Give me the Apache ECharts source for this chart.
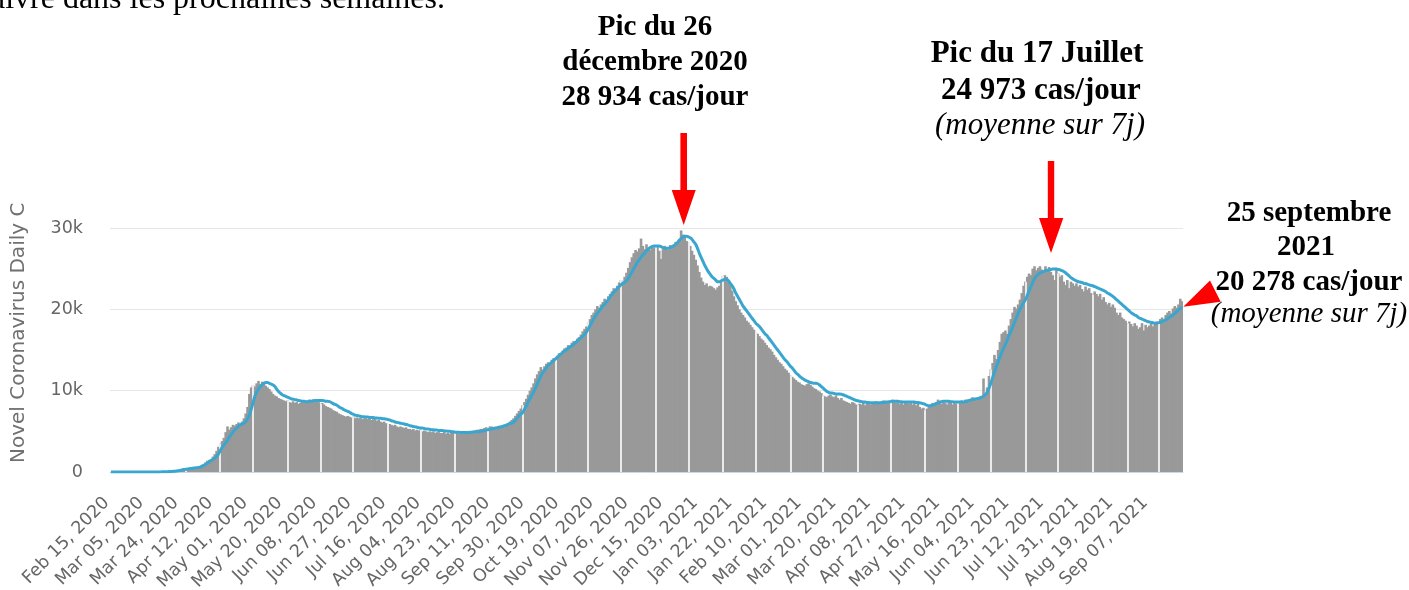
<!DOCTYPE html>
<html>
<head>
<meta charset="utf-8">
<script src="https://cdn.jsdelivr.net/npm/echarts@6/dist/echarts.min.js"></script>
<style>html,body{margin:0;padding:0;background:#fff;}#c{width:1409px;height:590px;}</style>
</head>
<body>
<div id="c"></div>
<script>
// Daily new cases (thousands), one value per day from Feb 15, 2020 to Sep 25, 2021
const dailyCases = [
0,0,0,0,0,0,0,0,0,0,
0,0,0,0,0,0,0,0,0,0,
0,0,0,0,0.01,0.01,0.02,0.02,0.03,0.03,
0.04,0.05,0.07,0.08,0.1,0.13,0.17,0.22,0.28,0.3,
0.35,0.38,0.4,0.44,0.47,0.5,0.55,0.6,0.65,0.75,
0.9,1.0,1.2,1.4,1.5,1.6,1.9,2.2,2.6,3.1,
3.5,3.8,4.2,4.9,5.6,5.2,5.5,5.8,5.7,5.9,
6.1,5.9,6.2,6.6,7.2,8.0,9.6,10.4,10.7,10.5,
10.9,11.2,10.8,11.1,10.9,10.6,10.4,10.2,9.9,9.6,
9.4,9.3,9.1,9.0,8.9,8.8,8.7,8.8,8.6,8.5,
8.7,8.5,8.6,8.4,8.5,8.6,8.7,8.6,8.8,8.9,
8.8,8.9,8.7,8.8,8.6,8.4,8.5,8.3,8.1,8.0,
7.9,7.8,7.6,7.5,7.4,7.2,7.1,7.0,6.9,6.8,
6.9,6.8,6.7,6.8,6.6,6.7,6.6,6.7,6.5,6.6,
6.6,6.5,6.6,6.4,6.5,6.5,6.3,6.4,6.2,6.1,
6.2,6.0,5.9,5.9,5.8,5.7,5.8,5.6,5.5,5.6,
5.5,5.4,5.5,5.3,5.3,5.2,5.3,5.1,5.2,5.1,
5.2,5.0,5.1,5.0,4.9,5.0,4.9,5.0,4.8,4.9,
4.9,4.8,4.8,4.9,4.7,4.8,4.7,4.8,4.8,4.7,
4.8,4.7,4.8,4.8,4.9,4.9,5.0,5.0,5.0,5.1,
5.1,5.2,5.2,5.3,5.3,5.4,5.5,5.5,5.6,5.6,
5.4,5.5,5.5,5.6,5.6,5.7,5.8,5.9,6.0,6.2,
6.4,6.6,6.9,7.2,7.5,7.8,8.2,8.6,9.0,9.5,
10.0,10.4,10.9,11.5,12.0,12.4,12.9,12.6,13.0,13.3,
13.5,13.4,13.8,14.0,13.8,14.3,14.6,14.4,14.9,15.2,
15.3,15.6,15.4,15.9,16.1,16.0,16.4,16.6,16.9,17.3,
17.6,17.9,18.4,18.8,19.3,19.6,20.0,20.4,20.2,20.6,
20.9,21.3,21.1,21.6,21.9,22.2,22.6,22.4,22.9,23.3,
23.6,23.4,24.0,24.5,25.1,25.8,26.4,26.9,27.3,27.1,
27.5,28.7,27.8,27.4,28.0,27.6,27.3,27.8,27.6,27.9,
27.7,27.2,26.2,27.4,27.8,27.6,27.3,27.9,27.7,28.0,
28.3,28.1,28.6,29.7,29.2,28.9,28.4,28.2,27.8,27.2,
26.7,26.1,25.4,24.6,23.9,23.4,23.0,23.2,22.8,22.9,
22.8,22.6,22.4,22.7,22.9,23.6,24.1,24.2,24.0,23.6,
23.0,22.3,21.6,21.0,20.5,20.0,19.6,19.3,19.0,18.6,
18.4,18.1,17.8,17.5,17.2,17.0,16.7,16.4,16.2,15.9,
15.6,15.3,15.1,14.8,14.4,14.1,13.8,13.5,13.3,13.0,
12.7,12.5,12.2,11.9,11.7,11.5,11.3,11.1,11.0,10.8,
10.7,10.6,10.8,10.9,10.7,10.5,10.3,10.2,10.0,9.9,
9.7,9.4,9.3,9.2,9.4,9.5,9.3,9.2,9.4,9.1,
8.9,9.1,8.8,8.7,8.6,8.5,8.4,8.6,8.5,8.3,
8.2,8.4,8.3,8.5,8.2,8.4,8.6,8.3,8.5,8.4,
8.7,8.4,8.6,8.5,8.8,8.6,8.5,8.7,8.8,8.9,
8.6,8.5,8.7,8.4,8.6,8.3,8.7,8.5,8.4,8.6,
8.3,8.5,8.2,8.4,8.0,7.8,7.9,7.6,7.8,8.0,
8.3,8.5,8.4,8.6,8.9,8.7,8.4,8.6,8.5,8.3,
8.7,8.5,8.3,8.6,8.4,8.7,8.5,8.8,8.6,8.9,
8.9,8.8,9.0,9.2,9.0,9.1,9.2,9.1,9.3,11.5,
9.6,10.4,11.8,12.6,13.4,14.4,13.9,15.0,16.0,17.0,
17.2,17.4,17.0,18.0,18.8,19.6,20.3,20.1,20.6,21.2,
22.0,22.9,23.4,24.0,24.4,24.2,25.0,25.3,24.8,25.1,
25.3,24.9,24.6,25.3,24.9,25.2,24.6,24.2,23.6,25.1,
24.4,24.0,24.2,23.4,23.0,23.6,22.6,23.4,23.2,22.9,
23.2,22.8,23.0,22.5,22.2,22.8,22.4,22.6,22.0,21.8,
22.2,21.9,21.6,21.9,21.2,21.5,20.9,20.6,20.8,20.3,
20.6,20.2,19.6,19.3,19.6,19.0,18.8,18.6,18.3,18.5,
18.2,17.9,18.3,18.0,17.6,17.8,18.3,17.4,18.1,17.8,
18.0,18.3,17.9,18.2,18.5,18.3,18.8,19.0,18.7,19.3,
19.6,19.8,19.5,20.1,20.4,20.2,20.6,21.3,21.0
];
// 7-day moving average (thousands)
const avg7 = [
0,0,0,0,0,0,0,0,0,0,
0,0,0,0,0,0,0,0,0,0,
0,0,0,0,0,0.01,0.01,0.01,0.02,0.02,
0.03,0.04,0.05,0.06,0.08,0.1,0.12,0.15,0.2,0.25,
0.3,0.33,0.36,0.4,0.43,0.46,0.5,0.53,0.56,0.6,
0.7,0.8,0.95,1.1,1.25,1.4,1.55,1.7,1.9,2.2,
2.6,3.0,3.3,3.6,3.9,4.3,4.6,4.9,5.2,5.4,
5.6,5.8,5.9,6.0,6.2,6.5,7.0,7.7,8.5,9.3,
9.8,10.2,10.5,10.7,10.9,11.0,11.0,10.9,10.8,10.7,
10.5,10.2,9.9,9.7,9.5,9.4,9.3,9.2,9.1,9.0,
8.95,8.9,8.85,8.8,8.75,8.7,8.7,8.65,8.65,8.7,
8.7,8.75,8.8,8.8,8.8,8.8,8.8,8.75,8.7,8.7,
8.65,8.55,8.4,8.3,8.2,8.05,7.9,7.8,7.65,7.55,
7.45,7.35,7.2,7.1,7.0,6.95,6.9,6.85,6.8,6.8,
6.75,6.75,6.7,6.7,6.7,6.65,6.65,6.6,6.6,6.55,
6.55,6.5,6.45,6.4,6.3,6.25,6.15,6.1,6.05,6.0,
5.95,5.9,5.85,5.8,5.7,5.65,5.6,5.55,5.5,5.45,
5.4,5.4,5.35,5.3,5.3,5.25,5.2,5.2,5.15,5.15,
5.1,5.1,5.1,5.05,5.05,5.0,5.0,4.95,4.95,4.9,
4.9,4.9,4.85,4.85,4.85,4.85,4.85,4.9,4.9,4.9,
4.95,4.95,4.95,5.0,5.05,5.1,5.15,5.2,5.25,5.3,
5.35,5.4,5.45,5.5,5.55,5.6,5.7,5.75,5.85,5.95,
6.0,6.15,6.35,6.6,6.9,7.1,7.3,7.7,8.1,8.6,
9.0,9.4,9.8,10.3,10.8,11.3,11.8,12.2,12.5,12.8,
13.1,13.3,13.5,13.7,13.9,14.1,14.3,14.5,14.7,14.9,
15.0,15.2,15.4,15.5,15.7,15.9,16.1,16.3,16.5,16.7,
16.9,17.2,17.6,18.0,18.4,18.8,19.2,19.5,19.8,20.1,
20.4,20.6,20.9,21.2,21.5,21.8,22.1,22.3,22.6,22.8,
23.0,23.2,23.3,23.5,23.8,24.2,24.6,25.0,25.4,25.8,
26.1,26.4,26.7,26.9,27.2,27.4,27.6,27.7,27.8,27.8,
27.8,27.8,27.7,27.6,27.5,27.5,27.5,27.6,27.7,27.8,
28.0,28.2,28.5,28.7,28.9,29.0,29.0,28.9,28.8,28.6,
28.3,28.0,27.5,26.9,26.4,25.9,25.4,25.0,24.6,24.3,
24.0,23.8,23.6,23.4,23.4,23.5,23.6,23.7,23.7,23.5,
23.2,22.9,22.5,22.0,21.6,21.2,20.8,20.4,20.1,19.8,
19.5,19.2,18.9,18.6,18.3,18.1,17.9,17.6,17.3,17.0,
16.8,16.5,16.2,15.9,15.6,15.3,15.0,14.7,14.4,14.1,
13.8,13.6,13.3,13.0,12.8,12.5,12.2,12.0,11.8,11.6,
11.45,11.3,11.2,11.1,11.0,10.95,10.9,10.9,10.85,10.7,
10.5,10.3,10.1,9.9,9.8,9.7,9.7,9.65,9.6,9.6,
9.6,9.55,9.5,9.4,9.3,9.2,9.1,9.0,8.9,8.8,
8.75,8.7,8.65,8.6,8.6,8.55,8.55,8.5,8.5,8.5,
8.5,8.5,8.5,8.55,8.55,8.6,8.6,8.65,8.65,8.7,
8.7,8.7,8.7,8.65,8.65,8.6,8.6,8.6,8.6,8.6,
8.6,8.6,8.55,8.55,8.5,8.45,8.4,8.3,8.2,8.15,
8.15,8.2,8.3,8.4,8.5,8.6,8.65,8.7,8.7,8.7,
8.7,8.65,8.65,8.6,8.6,8.6,8.6,8.6,8.6,8.65,
8.7,8.8,8.85,8.9,8.95,9.0,9.05,9.1,9.2,9.3,
9.5,9.8,10.3,10.9,11.6,12.3,12.9,13.5,14.1,14.7,
15.2,15.7,16.2,16.8,17.3,17.8,18.4,18.9,19.5,20.0,
20.4,20.8,21.2,21.7,22.3,22.8,23.3,23.8,24.1,24.3,
24.45,24.55,24.65,24.75,24.8,24.85,24.9,24.95,24.97,24.95,
24.9,24.85,24.75,24.65,24.5,24.3,24.1,23.9,23.75,23.6,
23.5,23.4,23.35,23.3,23.2,23.15,23.1,23.0,22.95,22.9,
22.8,22.7,22.6,22.5,22.4,22.3,22.2,22.0,21.9,21.75,
21.6,21.4,21.2,21.0,20.8,20.6,20.4,20.2,20.0,19.8,
19.6,19.45,19.3,19.2,19.0,18.9,18.8,18.7,18.6,18.5,
18.45,18.4,18.35,18.3,18.3,18.35,18.4,18.5,18.6,18.7,
18.85,19.0,19.15,19.3,19.5,19.7,19.9,20.1,20.3
];
// y-axis ticks (thousands)
const yTicks = [0, 10, 20, 30];
// days where the source rendering shows thin white gaps between bars
const stripeDays = [41,60,78,97,115,133,152,170,189,207,226,244,262,280,299,317,336,354,373,391,410,428,447,465,483,502,520,539,558,575];

const MONTHS = ['Jan','Feb','Mar','Apr','May','Jun','Jul','Aug','Sep','Oct','Nov','Dec'];
const startMs = Date.UTC(2020, 1, 15);
const categories = dailyCases.map((_, i) => {
  const d = new Date(startMs + i * 86400000);
  return MONTHS[d.getUTCMonth()] + ' ' + String(d.getUTCDate()).padStart(2, '0') + ', ' + d.getUTCFullYear();
});

const chart = echarts.init(document.getElementById('c'), null, {renderer: 'canvas'});

const serifB = (s) => 'bold ' + s + 'px "Liberation Serif", "Times New Roman", serif';
const serifI = (s) => 'italic ' + s + 'px "Liberation Serif", "Times New Roman", serif';
function txt(t, x, y, font, align) {
  return {type: 'text', silent: true, z: 100,
    style: {text: t, x: x, y: y, font: font, fill: '#000',
      align: align || 'center', textAlign: align || 'center',
      verticalAlign: 'middle', textVerticalAlign: 'middle'}};
}

const graphics = [
  txt('suivre dans les prochaines semaines.', 445, 0, '32px "Liberation Serif", serif', 'right'),
  txt('Pic du 26', 655, 28, serifB(29)),
  txt('décembre 2020', 655, 63, serifB(29)),
  txt('28 934 cas/jour', 655, 98, serifB(29)),
  txt('Pic du 17 Juillet', 1037, 54, serifB(31)),
  txt(' 24 973 cas/jour', 1037, 91, serifB(31)),
  txt('(moyenne sur 7j)', 1040, 126, serifI(31)),
  txt('25 septembre', 1309, 214, serifB(29)),
  txt('2021', 1306, 248, serifB(29)),
  txt('20 278 cas/jour', 1309, 283, serifB(29)),
  txt('(moyenne sur 7j)', 1309, 314, serifI(29)),
  {type: 'polygon', silent: true, z: 100, shape: {points: [[680.4,133],[687,133],[687,190],[695.7,190],[683.7,225],[671.7,190],[680.4,190]]}, style: {fill: '#ff0000'}},
  {type: 'polygon', silent: true, z: 100, shape: {points: [[1047.8,161],[1054.2,161],[1054.2,218],[1063.3,218],[1051,253],[1039,218],[1047.8,218]]}, style: {fill: '#ff0000'}},
  {type: 'polygon', silent: true, z: 100, shape: {points: [[1210,280.5],[1220.7,301.7],[1183.3,306.7]]}, style: {fill: '#ff0000'}},
  {type: 'text', silent: true, x: 19, y: 463, rotation: Math.PI / 2,
    style: {text: 'Novel Coronavirus Daily C', x: 0, y: 0, font: '20px "DejaVu Sans", sans-serif', fill: '#707070',
      align: 'left', textAlign: 'left', verticalAlign: 'middle', textVerticalAlign: 'middle'}}
];

chart.setOption({
  animation: false,
  backgroundColor: '#ffffff',
  grid: {left: 110, right: 226, top: 228, bottom: 118, containLabel: false, outerBoundsMode: 'none'},
  xAxis: {
    type: 'category',
    data: categories,
    boundaryGap: true,
    axisLine: {show: true, lineStyle: {color: '#ccd6eb', width: 1}},
    axisTick: {show: false},
    splitLine: {show: false},
    axisLabel: {interval: 18, rotate: 45, margin: 24, padding: [0, 6, 0, 0], color: '#666666', fontSize: 17.5, fontFamily: 'DejaVu Sans'}
  },
  yAxis: {
    type: 'value',
    min: yTicks[0], max: yTicks[yTicks.length - 1], interval: 10,
    axisLine: {show: false},
    axisTick: {show: false},
    splitLine: {lineStyle: {color: '#e6e6e6', width: 1}},
    axisLabel: {margin: 27, color: '#666666', fontSize: 17.5, fontFamily: 'DejaVu Sans',
      formatter: (v) => v === 0 ? '0' : v + 'k'}
  },
  series: [
    {
      type: 'bar',
      data: dailyCases,
      barWidth: 2.6,
      itemStyle: {color: '#999999'},
      silent: true,
      markLine: {
        silent: true, symbol: 'none', animation: false,
        label: {show: false},
        lineStyle: {color: '#ffffff', width: 1.6, type: 'solid'},
        data: stripeDays.map(i => [{coord: [categories[i], 0]}, {coord: [categories[i], dailyCases[i]]}])
      }
    },
    {
      type: 'line',
      data: avg7,
      showSymbol: false,
      smooth: 0.3,
      silent: true,
      z: 5,
      lineStyle: {color: '#38a6cf', width: 3},
      itemStyle: {color: '#38a6cf'}
    }
  ],
  graphic: graphics
});
</script>
</body>
</html>
